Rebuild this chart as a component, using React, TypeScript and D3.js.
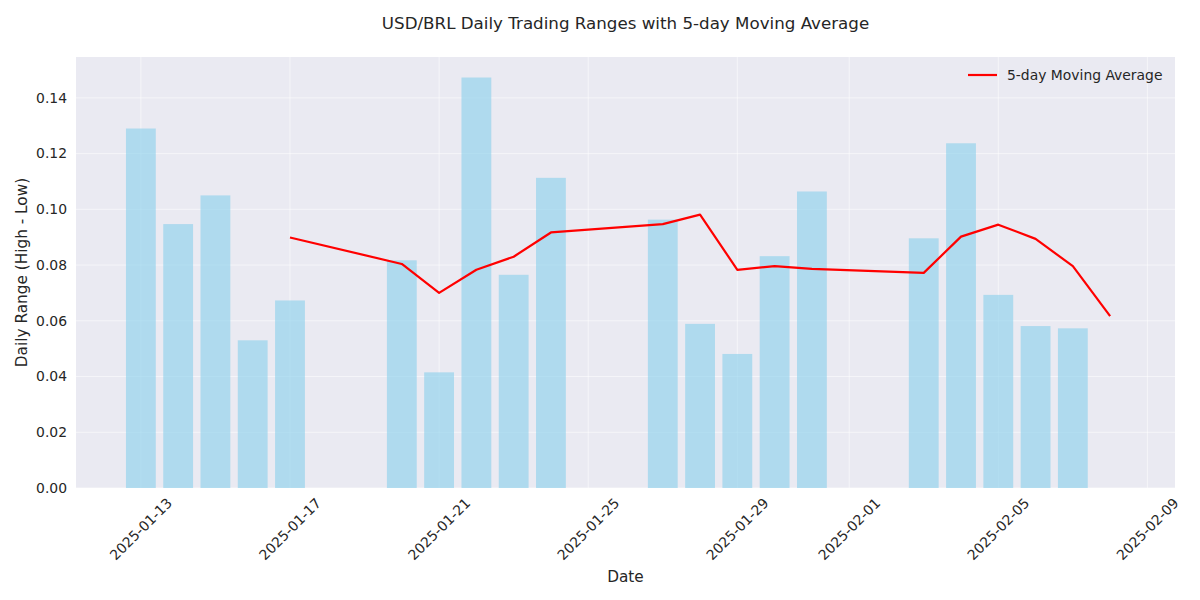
import React from "react";
import * as d3 from "d3";

const dates = [
  "2025-01-13", "2025-01-14", "2025-01-15", "2025-01-16", "2025-01-17",
  "2025-01-20", "2025-01-21", "2025-01-22", "2025-01-23", "2025-01-24",
  "2025-01-27", "2025-01-28", "2025-01-29", "2025-01-30", "2025-01-31",
  "2025-02-03", "2025-02-04", "2025-02-05", "2025-02-06", "2025-02-07",
  "2025-02-08",
];
const ranges = [
  0.129, 0.0947, 0.105, 0.053, 0.0673,
  0.0817, 0.0415, 0.1473, 0.0765, 0.1113,
  0.0963, 0.0589, 0.0481, 0.0832, 0.1064,
  0.0896, 0.1237, 0.0693, 0.0581, 0.0573,
  0.0,
];
const maDates = [
  "2025-01-17", "2025-01-20", "2025-01-21", "2025-01-22", "2025-01-23", "2025-01-24",
  "2025-01-27", "2025-01-28", "2025-01-29", "2025-01-30", "2025-01-31",
  "2025-02-03", "2025-02-04", "2025-02-05", "2025-02-06", "2025-02-07", "2025-02-08",
];
const maValues = [
  0.0899, 0.0804, 0.07, 0.0783, 0.083, 0.0917,
  0.0947, 0.0981, 0.0783, 0.0796, 0.0786,
  0.0772, 0.0902, 0.0945, 0.0894, 0.0796, 0.0617,
];
const xTickLabels = [
  "2025-01-13", "2025-01-17", "2025-01-21", "2025-01-25", "2025-01-29",
  "2025-02-01", "2025-02-05", "2025-02-09",
];
const yTicks = [0, 0.02, 0.04, 0.06, 0.08, 0.1, 0.12, 0.14];

const W = 1200, H = 600;
const M = { left: 76, right: 1175, top: 57, bottom: 488 };
const FONT = "DejaVu Sans, sans-serif";
const TXT = "#262626";
const DAY = 86400000;

export default function App() {
  const parse = d3.utcParse("%Y-%m-%d");
  const d0 = parse(dates[0])!.getTime();
  const dl = parse(dates[dates.length - 1])!.getTime();
  const span = (dl - d0) / DAY + 0.8;
  const pad = span * 0.05;
  const x = d3
    .scaleUtc()
    .domain([new Date(d0 - (0.4 + pad) * DAY), new Date(dl + (0.4 + pad) * DAY)])
    .range([M.left, M.right]);
  const yMax = (d3.max(ranges) as number) * 1.05;
  const y = d3.scaleLinear().domain([0, yMax]).range([M.bottom, M.top]);
  const barW = x(new Date(d0 + 0.8 * DAY)) - x(new Date(d0));

  const line = d3
    .line<[Date, number]>()
    .x((d) => x(d[0]))
    .y((d) => y(d[1]));
  const maPts: [Date, number][] = maDates.map((d, i) => [parse(d)!, maValues[i]]);

  const cx = (M.left + M.right) / 2;
  const cy = (M.top + M.bottom) / 2;

  return (
    <svg width={W} height={H} style={{ display: "block", margin: "-8px" }} fontFamily={FONT}>
      <rect x={0} y={0} width={W} height={H} fill="#ffffff" />
      <rect x={M.left} y={M.top} width={M.right - M.left} height={M.bottom - M.top} fill="#EAEAF2" />
      {yTicks.map((t) => (
        <line key={"gy" + t} x1={M.left} x2={M.right} y1={y(t)} y2={y(t)} stroke="#ffffff" strokeOpacity={0.55} strokeWidth={1} />
      ))}
      {xTickLabels.map((t) => {
        const xx = x(parse(t)!);
        return <line key={"gx" + t} x1={xx} x2={xx} y1={M.top} y2={M.bottom} stroke="#ffffff" strokeOpacity={0.55} strokeWidth={1} />;
      })}
      {dates.map((d, i) => {
        const xx = x(parse(d)!);
        return (
          <rect
            key={"b" + d}
            x={xx - barW / 2}
            y={y(ranges[i])}
            width={barW}
            height={y(0) - y(ranges[i])}
            fill="#87CEEB"
            fillOpacity={0.6}
          />
        );
      })}
      <path d={line(maPts) || ""} fill="none" stroke="#FF0000" strokeWidth={2.2} strokeLinejoin="round" />
      {yTicks.map((t) => (
        <text key={"ty" + t} x={M.left - 9} y={y(t)} dy="0.35em" textAnchor="end" fontSize={13.9} fill={TXT}>
          {d3.format(".2f")(t)}
        </text>
      ))}
      {xTickLabels.map((t) => {
        const xx = x(parse(t)!);
        const yy = 529;
        return (
          <text
            key={"tx" + t}
            x={xx}
            y={yy}
            textAnchor="middle"
            dominantBaseline="central"
            fontSize={13.9}
            fill={TXT}
            transform={`rotate(-45 ${xx} ${yy})`}
          >
            {t}
          </text>
        );
      })}
      <text x={cx} y={29} textAnchor="middle" fontSize={16.7} fill={TXT}>
        USD/BRL Daily Trading Ranges with 5-day Moving Average
      </text>
      <text x={cx} y={582} textAnchor="middle" fontSize={15.3} fill={TXT}>
        Date
      </text>
      <text
        x={27}
        y={cy}
        textAnchor="middle"
        fontSize={15.3}
        fill={TXT}
        transform={`rotate(-90 27 ${cy})`}
      >
        Daily Range (High - Low)
      </text>
      <line x1={968} x2={997} y1={75} y2={75} stroke="#FF0000" strokeWidth={2.2} />
      <text x={1007} y={75} dy="0.35em" fontSize={13.9} fill={TXT}>
        5-day Moving Average
      </text>
    </svg>
  );
}
